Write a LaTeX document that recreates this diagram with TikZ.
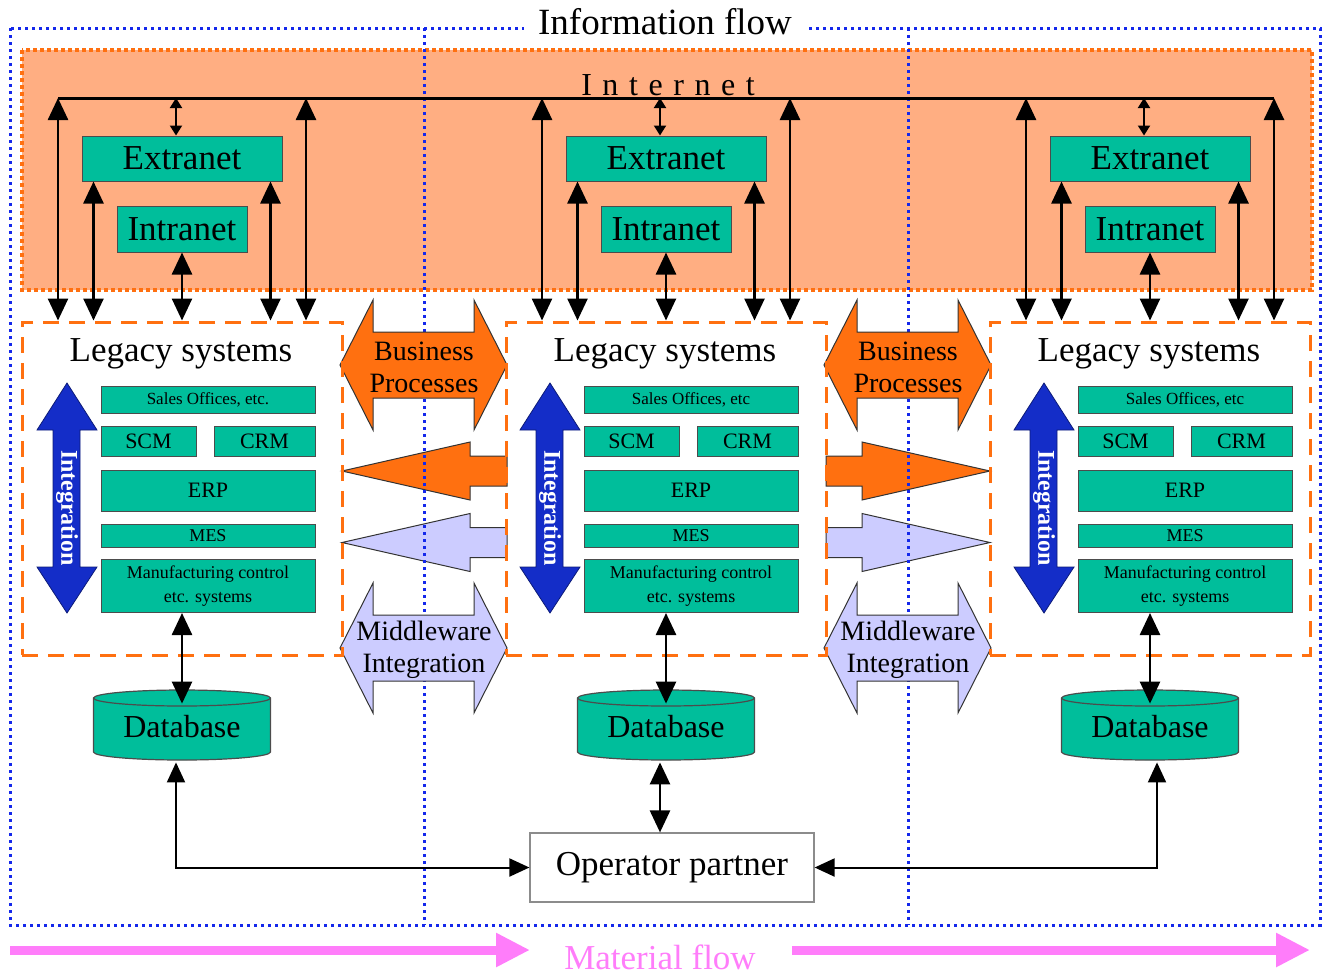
\documentclass[tikz,border=0pt]{standalone}
\usepackage{fontspec}
\setmainfont{Liberation Serif}
\usetikzlibrary{arrows.meta}

\definecolor{sysgreen}{RGB}{0,190,155}
\definecolor{bporange}{RGB}{255,112,16}
\definecolor{mwlilac}{RGB}{204,204,255}
\definecolor{intblue}{RGB}{20,45,200}
\definecolor{flowblue}{RGB}{20,40,235}
\definecolor{netorange}{RGB}{255,174,130}
\definecolor{matpink}{RGB}{255,125,250}

\tikzset{
  sysbox/.style={draw=black!70, fill=sysgreen, line width=0.5pt, inner sep=0pt, align=center},
  netbox/.style={sysbox, font=\fontsize{17.5}{20}\selectfont},
  legbox/.style={draw=bporange, line width=1.5pt, dash pattern=on 8pt off 5pt,
    minimum width=160pt, minimum height=166.5pt, inner sep=0pt},
  legtext/.style={font=\fontsize{17.5}{20}\selectfont},
  netband/.style={fill=netorange, draw=bporange, line width=2pt, dash pattern=on 2pt off 1.5pt},
  flowline/.style={draw=flowblue, line width=1.5pt, dash pattern=on 1.5pt off 2pt},
  flowtitle/.style={anchor=base, fill=white, inner xsep=7pt, font=\fontsize{18.5}{22}\selectfont},
  nettext/.style={anchor=base, font=\fontsize{16}{18}\selectfont\addfontfeature{LetterSpace=33}},
  busline/.style={line width=1.5pt},
  netarr/.style={line width=1.3pt, arrows={Triangle[width=10pt,length=11pt]-Triangle[width=10pt,length=11pt]}},
  smallarr/.style={line width=1pt, arrows={Triangle[width=6pt,length=5pt]-Triangle[width=6pt,length=5pt]}},
  linkarr/.style={line width=1pt, arrows={Triangle[width=9pt,length=10pt]-Triangle[width=9pt,length=10pt]}},
  intarrow/.style={fill=intblue, draw=intblue!60!black, line width=0.4pt},
  inttext/.style={rotate=-90, text=white, font=\fontsize{12}{14}\selectfont\bfseries},
  bparrow/.style={fill=bporange, draw=black!80, line width=0.5pt},
  mwarrow/.style={fill=mwlilac, draw=black!80, line width=0.5pt},
  blocktext/.style={align=center, font=\fontsize{14}{16}\selectfont},
  dbshape/.style={fill=sysgreen, draw=black!70, line width=0.6pt},
  dbtext/.style={minimum width=88.5pt, minimum height=35pt, inner sep=0pt, font=\fontsize{16}{18}\selectfont},
  opbox/.style={draw=black!45, fill=white, line width=0.6pt, minimum width=142pt, minimum height=34.5pt, font=\fontsize{17.5}{20}\selectfont},
  matarr/.style={draw=matpink, line width=4.5pt, arrows={-Triangle[width=16pt,length=17pt]}},
  mattext/.style={anchor=base, text=matpink, font=\fontsize{17.5}{20}\selectfont}
}

% block arrows: left, right, centre y, style
\newcommand{\blockdbl}[4]{%
  \filldraw[#4] (#1,#3) -- (#1+33,#3-65) -- (#1+33,#3-33) -- (#2-33,#3-33) -- (#2-33,#3-65)
    -- (#2,#3) -- (#2-33,#3+65) -- (#2-33,#3+33) -- (#1+33,#3+33) -- (#1+33,#3+65) -- cycle;}
% tail, head base, tip, centre y, style
\newcommand{\blocksgl}[5]{%
  \filldraw[#5] (#1,#4-15) -- (#2,#4-15) -- (#2,#4-29) -- (#3,#4) -- (#2,#4+29)
    -- (#2,#4+15) -- (#1,#4+15) -- cycle;}
% database cylinder round centre x
\newcommand{\dbcyl}[1]{%
  \filldraw[dbshape] (#1-88.5,698) -- (#1-88.5,752) arc[start angle=180,end angle=360,x radius=44.25pt,y radius=4pt]
    -- (#1+88.5,698) arc[start angle=0,end angle=180,x radius=44.25pt,y radius=4pt] -- cycle;
  \draw[dbshape, fill=none] (#1-88.5,698) arc[start angle=180,end angle=360,x radius=44.25pt,y radius=4pt];}

\begin{document}
\begin{tikzpicture}[x=0.5pt,y=-0.5pt]
  \useasboundingbox (0,0) rectangle (1322,976);

  % internet band and frame
  \path[netband] (22,50) rectangle (1312,290);
  \draw[flowline] (10,28) rectangle (1320,925);

  % flows between the partners
  \blocksgl{507}{470}{342}{471}{bparrow}
  \blocksgl{507}{470}{342}{542.5}{mwarrow}
  \blocksgl{826}{862}{990}{471}{bparrow}
  \blocksgl{826}{862}{990}{542.5}{mwarrow}

  \draw[flowline] (424,28) -- (424,925);
  \draw[flowline] (908,28) -- (908,925);
  \node[flowtitle] (info) at (665,34) {Information flow};

  \blockdbl{340}{507}{365}{bparrow}
  \blockdbl{340}{507}{648}{mwarrow}
  \blockdbl{824}{991}{365}{bparrow}
  \blockdbl{824}{991}{648}{mwarrow}
  \node[blocktext] (bp1) at (424,367) {Business\\Processes};
  \node[blocktext] (mw1) at (424,650) {Middleware\\Integration};
  \node[blocktext] (bp2) at (908,367) {Business\\Processes};
  \node[blocktext] (mw2) at (908,650) {Middleware\\Integration};

  \node[nettext] (net) at (668,95) {Internet};

  \foreach \i/\dx/\bx/\sales in {1/0/0/{Sales Offices, etc.}, 2/484/483/{Sales Offices, etc}, 3/968/977/{Sales Offices, etc}} {
    \node[legbox] (leg\i) at (\dx+182,488.5) {};
    \node[legtext] (legt\i) at (\dx+181,354) {Legacy systems};

    \node[netbox, minimum width=100pt, minimum height=22.5pt] (ext\i) at (\dx+182,158.5) {Extranet};
    \node[netbox, minimum width=65pt, minimum height=23pt] (int\i) at (\dx+182,229) {Intranet};

    \coordinate (bl\i) at (\dx+58,98);
    \coordinate (br\i) at (\dx+306,98);
    \coordinate (ea\i) at ([xshift=6pt]ext\i.south west);
    \coordinate (eb\i) at ([xshift=-6pt]ext\i.south east);
    \coordinate (et\i) at ([xshift=-3pt]ext\i.north);
    \draw[netarr] (bl\i) -- (bl\i |- leg\i.north);
    \draw[netarr] (br\i) -- (br\i |- leg\i.north);
    \draw[netarr] (ea\i) -- (ea\i |- leg\i.north);
    \draw[netarr] (eb\i) -- (eb\i |- leg\i.north);
    \draw[netarr] (int\i.south) -- (int\i.south |- leg\i.north);
    \draw[smallarr] (et\i |- bl\i) -- (et\i);

    % integration arrow
    \filldraw[intarrow] (\bx+67,383) -- (\bx+97,430) -- (\bx+80,430) -- (\bx+80,567) -- (\bx+97,567)
      -- (\bx+67,613) -- (\bx+37,567) -- (\bx+53,567) -- (\bx+53,430) -- (\bx+37,430) -- cycle;
    \node[inttext] (ig\i) at (\bx+67,508) {Integration};

    \node[sysbox, minimum width=107pt, minimum height=13.5pt, font=\fontsize{8.5}{10}\selectfont] (sal\i) at (\bx+208,399.5) {\sales};
    \node[sysbox, minimum width=47.5pt, minimum height=15pt, font=\fontsize{11}{13}\selectfont] (scm\i) at (\bx+148.5,441) {SCM};
    \node[sysbox, minimum width=50.5pt, minimum height=15pt, font=\fontsize{11}{13}\selectfont] (crm\i) at (\bx+264.5,441) {CRM};
    \node[sysbox, minimum width=107pt, minimum height=20.5pt, font=\fontsize{11}{13}\selectfont] (erp\i) at (\bx+208,490.5) {ERP};
    \node[sysbox, minimum width=107pt, minimum height=11.5pt, font=\fontsize{9}{10}\selectfont] (mes\i) at (\bx+208,535.5) {MES};
    \node[sysbox, minimum width=107pt, minimum height=26.5pt, font=\fontsize{9}{12}\selectfont] (mfc\i) at (\bx+208,586) {Manufacturing control\\etc. systems};

    \dbcyl{\dx+182}
    \node[dbtext] (db\i) at (\dx+182,727) {Database};
    \draw[netarr] (db\i.north |- mfc\i.south) -- ([yshift=-6pt]db\i.north);
  }

  \draw[busline] (bl1) -- (br3);

  % operator partner
  \node[opbox] (op) at (672,867.5) {Operator partner};
  \coordinate (dc1) at ([xshift=-3pt]db1.south);
  \coordinate (dc2) at ([xshift=-3pt]db2.south);
  \coordinate (dc3) at ([xshift=3.5pt]db3.south);
  \draw[linkarr] (dc1) |- (op.west);
  \draw[netarr] (dc2) -- (dc2 |- op.north);
  \draw[linkarr] (dc3) |- (op.east);

  % material flow
  \coordinate (mfa) at (10,950);
  \coordinate (mfb) at (530,950);
  \coordinate (mfc) at (792,950);
  \coordinate (mfd) at (1310,950);
  \draw[matarr] (mfa) -- (mfb);
  \draw[matarr] (mfc) -- (mfd);
  \node[mattext] (mat) at (660,969) {Material flow};
\end{tikzpicture}
\end{document}
